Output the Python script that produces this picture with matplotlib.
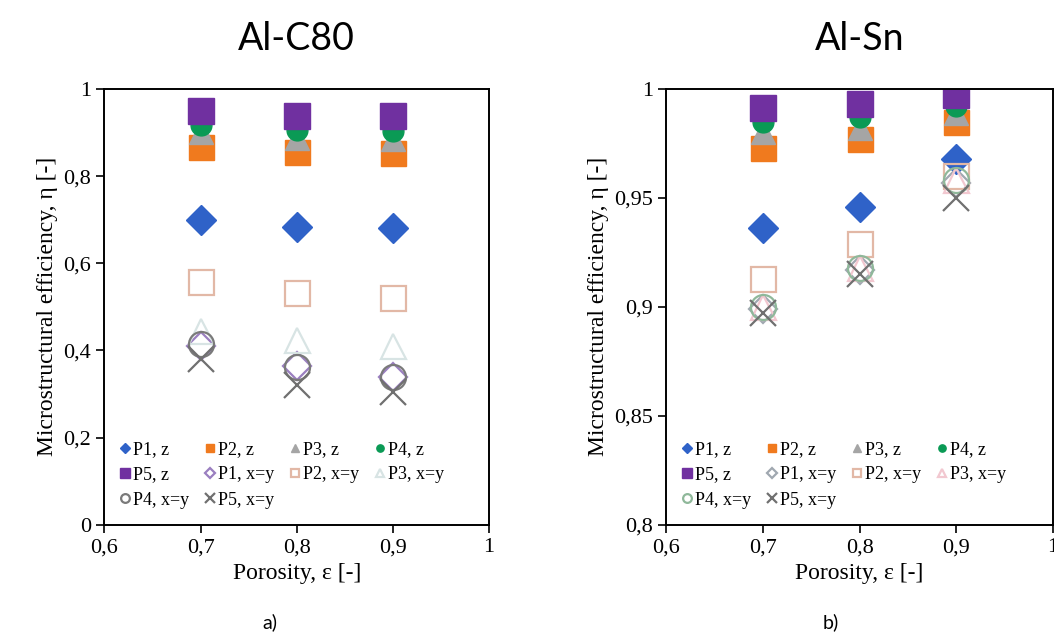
import matplotlib.pyplot as plt
from matplotlib.ticker import FuncFormatter

porosity = [0.7, 0.8, 0.9]

# Al-C80 values
c80_p1_z = [0.700, 0.683, 0.680]
c80_p2_z = [0.866, 0.855, 0.853]
c80_p3_z = [0.900, 0.888, 0.886]
c80_p4_z = [0.918, 0.905, 0.904]
c80_p5_z = [0.950, 0.938, 0.938]
c80_p1_xy = [0.410, 0.365, 0.340]
c80_p2_xy = [0.557, 0.532, 0.520]
c80_p3_xy = [0.445, 0.425, 0.410]
c80_p4_xy = [0.414, 0.362, 0.340]
c80_p5_xy = [0.380, 0.320, 0.305]

# Al-Sn values
sn_p1_z = [0.936, 0.946, 0.968]
sn_p2_z = [0.973, 0.977, 0.985]
sn_p3_z = [0.980, 0.982, 0.989]
sn_p4_z = [0.985, 0.987, 0.992]
sn_p5_z = [0.991, 0.993, 0.997]
sn_p1_xy = [0.899, 0.917, 0.957]
sn_p2_xy = [0.913, 0.929, 0.960]
sn_p3_xy = [0.900, 0.918, 0.958]
sn_p4_xy = [0.900, 0.918, 0.958]
sn_p5_xy = [0.897, 0.915, 0.950]

labels = ['P1, z', 'P2, z', 'P3, z', 'P4, z', 'P5, z',
          'P1, x=y', 'P2, x=y', 'P3, x=y', 'P4, x=y', 'P5, x=y']

# marker, colour, filled, size
styles = [('D', '#2F62C8', True, 15),
          ('s', '#F07A1E', True, 18),
          ('^', '#A5A5A5', True, 17),
          ('o', '#0A9A55', True, 15),
          ('s', '#7030A0', True, 19),
          ('D', '#9A7FC0', False, 14),
          ('s', '#E2B8A6', False, 18),
          ('^', '#D8E4E4', False, 18),
          ('o', '#7A7A7A', False, 18),
          ('x', '#707070', False, 19)]

# legend is filled column by column, this gives row-wise reading order
legend_order = [0, 4, 8, 1, 5, 9, 2, 6, 3, 7]

serif = 'Liberation Serif'


def comma(v, pos):
    return ('%g' % v).replace('.', ',')


def draw(ax, series, ylim, yticks, title, legend_colors=None):
    handles = []
    for i, (ys, lab) in enumerate(zip(series, labels)):
        m, c, filled, ms = styles[i]
        if legend_colors is not None:
            c = legend_colors.get(i, c)
        if filled:
            h, = ax.plot(porosity, ys, linestyle='none', marker=m, color=c,
                         markersize=ms, label=lab)
        else:
            h, = ax.plot(porosity, ys, linestyle='none', marker=m, color=c,
                         markerfacecolor='none', markeredgewidth=1.6,
                         markersize=ms, label=lab)
        handles.append(h)
    ax.set_xlim(0.6, 1.0)
    ax.set_ylim(*ylim)
    ax.set_xticks([0.6, 0.7, 0.8, 0.9, 1.0])
    ax.set_yticks(yticks)
    ax.xaxis.set_major_formatter(FuncFormatter(comma))
    ax.yaxis.set_major_formatter(FuncFormatter(comma))
    ax.tick_params(direction='out', length=6, width=1.2, labelsize=16)
    for t in ax.get_xticklabels() + ax.get_yticklabels():
        t.set_fontfamily(serif)
    for s in ax.spines.values():
        s.set_linewidth(1.4)
    ax.set_xlabel('Porosity, ε [-]', fontsize=17, family=serif, labelpad=4)
    ax.set_ylabel('Microstructural efficiency, η [-]', fontsize=17,
                  family=serif, labelpad=4)
    ax.set_title(title, fontsize=27, family='Lato', pad=28)
    hs = [handles[k] for k in legend_order]
    ax.legend(hs, [labels[k] for k in legend_order], ncol=4,
              loc='lower left', bbox_to_anchor=(0.0, 0.0),
              frameon=False, markerscale=0.35, handlelength=0.5,
              handletextpad=0.2, columnspacing=0.9, labelspacing=0.45,
              prop={'family': serif, 'size': 13})


fig = plt.figure(figsize=(10.54, 6.44), dpi=100)
ax1 = fig.add_axes([0.099, 0.185, 0.365, 0.677])
ax2 = fig.add_axes([0.632, 0.185, 0.367, 0.677])

draw(ax1, [c80_p1_z, c80_p2_z, c80_p3_z, c80_p4_z, c80_p5_z,
           c80_p1_xy, c80_p2_xy, c80_p3_xy, c80_p4_xy, c80_p5_xy],
     (0, 1), [0, 0.2, 0.4, 0.6, 0.8, 1.0], 'Al-C80')
draw(ax2, [sn_p1_z, sn_p2_z, sn_p3_z, sn_p4_z, sn_p5_z,
           sn_p1_xy, sn_p2_xy, sn_p3_xy, sn_p4_xy, sn_p5_xy],
     (0.8, 1), [0.8, 0.85, 0.9, 0.95, 1.0], 'Al-Sn',
     legend_colors={5: '#A0A8B0', 7: '#F2C8D0', 8: '#8FB89A'})

fig.text(0.256, 0.025, 'a)', fontsize=14, family='Lato', ha='center')
fig.text(0.788, 0.025, 'b)', fontsize=14, family='Lato', ha='center')

fig.savefig('out.png', dpi=100, facecolor='white')
